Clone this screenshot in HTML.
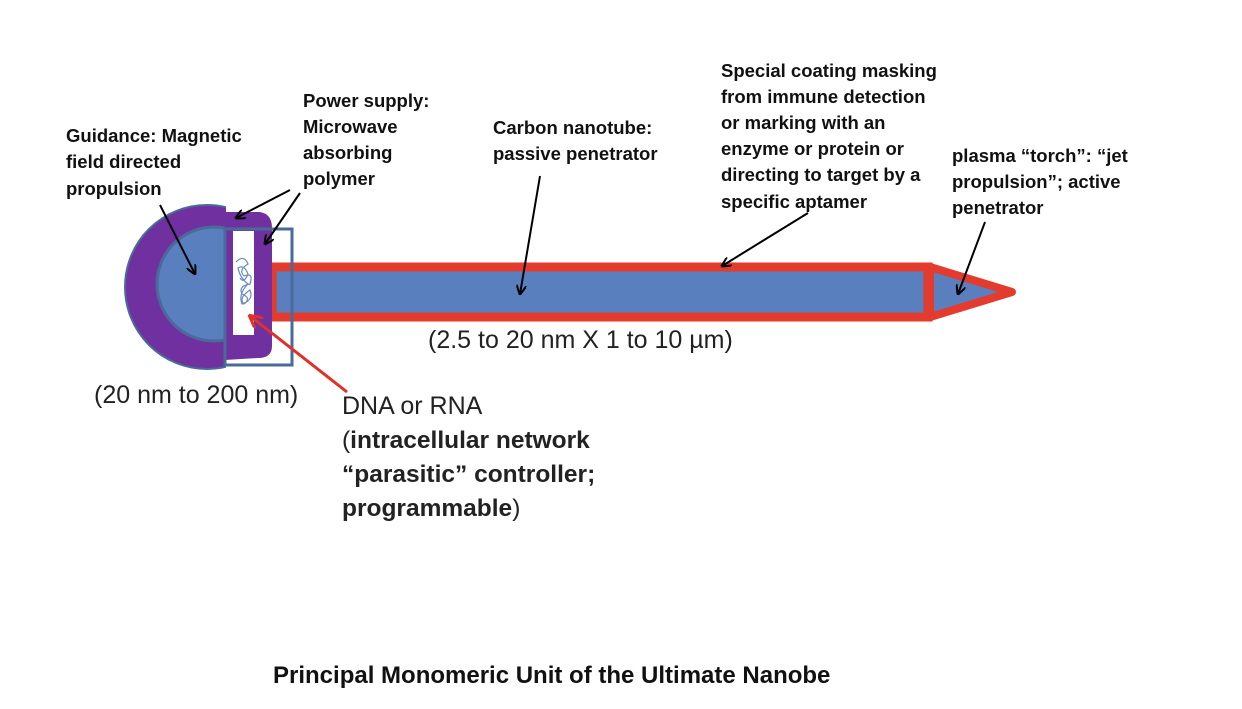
<!DOCTYPE html>
<html><head><meta charset="utf-8"><style>
body{margin:0;background:#fff;}
svg text{font-family:"Liberation Sans",sans-serif;}
.b{font-weight:bold;font-size:18.5px;fill:#111;}
.n{font-size:25px;fill:#222;}
</style></head><body>
<svg width="1242" height="704" viewBox="0 0 1242 704" xmlns="http://www.w3.org/2000/svg">
<defs><marker id="a" markerWidth="10" markerHeight="10" refX="9" refY="5" orient="auto" markerUnits="userSpaceOnUse"><path d="M0,0 L10,5 L0,10" fill="none" stroke="#000" stroke-width="2"/></marker>
<marker id="r" markerWidth="14" markerHeight="14" refX="12" refY="7" orient="auto" markerUnits="userSpaceOnUse"><path d="M0,0 L13,7 L0,14" fill="none" stroke="#e0302a" stroke-width="3"/></marker>
<clipPath id="c"><rect x="0" y="0" width="226" height="704"/></clipPath></defs>
<!-- tube -->
<rect x="272" y="267" width="656" height="50" fill="#5a7fbf" stroke="#e33b2e" stroke-width="9"/>
<polygon points="930,267 1012,292 930,317" fill="#5a7fbf" stroke="#e33b2e" stroke-width="8" stroke-linejoin="round"/>
<!-- purple head -->
<g clip-path="url(#c)">
<circle cx="207" cy="287" r="82" fill="#7030a0" stroke="#4a6a9a" stroke-width="2"/>
<circle cx="214" cy="284" r="57" fill="#5a7fbf" stroke="#4a6a9a" stroke-width="3"/>
</g>
<path d="M225,212 L260,212 Q272,214 272,228 L272,346 Q272,358 258,358 L225,360 Z" fill="#7030a0"/>
<rect x="233" y="231" width="21" height="104" fill="#fff"/>
<rect x="225" y="229" width="67" height="136" fill="none" stroke="#4a6a9a" stroke-width="3"/>
<path d="M236,262 q8,-8 12,2 q-10,6 -4,12 q10,-4 6,8 q-12,2 -8,10 q10,4 2,10 q-6,-6 6,-14 q4,10 -8,14 q-4,-10 6,-20 q-8,-6 -10,-16 q6,-4 10,6 q-4,10 -8,4" fill="none" stroke="#6a8ac0" stroke-width="1.2"/>
<!-- arrows -->
<line x1="160" y1="205" x2="195" y2="274" stroke="#000" stroke-width="2" marker-end="url(#a)"/>
<line x1="290" y1="190" x2="236" y2="218" stroke="#000" stroke-width="2" marker-end="url(#a)"/>
<line x1="300" y1="193" x2="265" y2="244" stroke="#000" stroke-width="2" marker-end="url(#a)"/>
<line x1="540" y1="176" x2="520" y2="294" stroke="#000" stroke-width="2" marker-end="url(#a)"/>
<line x1="808" y1="213" x2="722" y2="266" stroke="#000" stroke-width="2" marker-end="url(#a)"/>
<line x1="985" y1="222" x2="958" y2="294" stroke="#000" stroke-width="2" marker-end="url(#a)"/>
<line x1="347" y1="392" x2="250" y2="316" stroke="#e0302a" stroke-width="3" marker-end="url(#r)"/>
<!-- labels -->
<text class="b"><tspan x="66" y="142">Guidance:  Magnetic</tspan><tspan x="66" y="168">field directed</tspan><tspan x="66" y="195">propulsion</tspan></text>
<text class="b"><tspan x="303" y="107">Power supply:</tspan><tspan x="303" y="133">Microwave</tspan><tspan x="303" y="159">absorbing</tspan><tspan x="303" y="185">polymer</tspan></text>
<text class="b"><tspan x="493" y="134">Carbon nanotube:</tspan><tspan x="493" y="160">passive penetrator</tspan></text>
<text class="b"><tspan x="721" y="77">Special coating masking</tspan><tspan x="721" y="103">from immune detection</tspan><tspan x="721" y="129">or marking with an</tspan><tspan x="721" y="155">enzyme or protein or</tspan><tspan x="721" y="181">directing to target by a</tspan><tspan x="721" y="208">specific aptamer</tspan></text>
<text class="b"><tspan x="952" y="162">plasma “torch”: “jet</tspan><tspan x="952" y="188">propulsion”; active</tspan><tspan x="952" y="214">penetrator</tspan></text>
<text class="n" x="428" y="348">(2.5 to 20 nm X 1 to 10 µm)</text>
<text class="n" x="94" y="403">(20 nm to 200 nm)</text>
<text class="n" x="342" y="414">DNA or RNA</text>
<text class="n" style="font-size:24.5px"><tspan x="342" y="448">(<tspan font-weight="bold">intracellular network</tspan></tspan><tspan x="342" y="482" font-weight="bold">“parasitic” controller;</tspan><tspan x="342" y="516"><tspan font-weight="bold">programmable</tspan>)</tspan></text>
<text class="b" style="font-size:24px" x="273" y="683">Principal Monomeric Unit of the Ultimate Nanobe</text>
</svg>
</body></html>
